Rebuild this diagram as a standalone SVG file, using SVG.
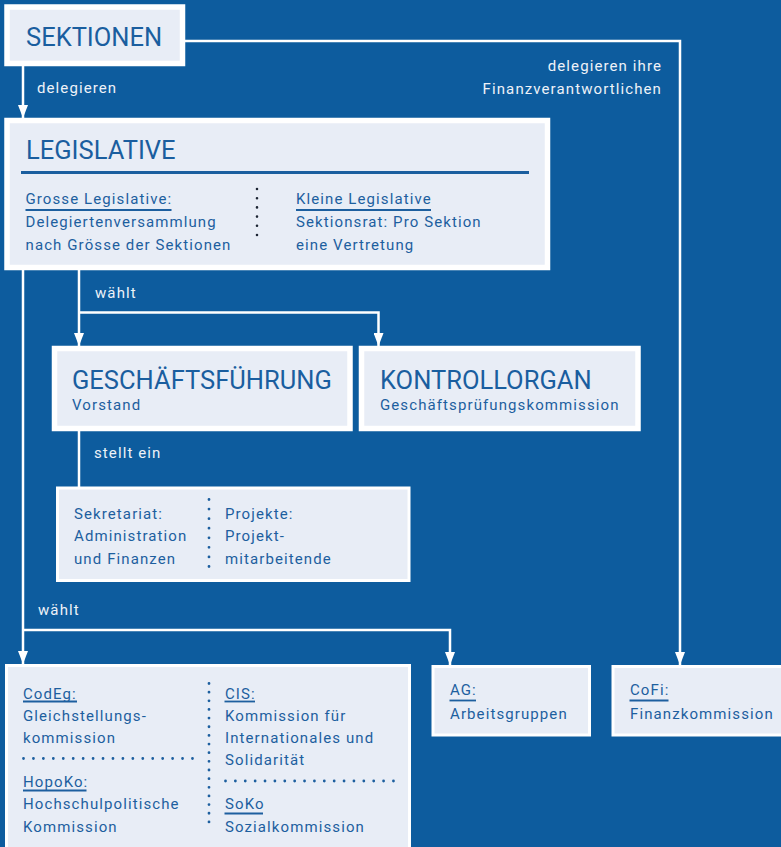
<svg xmlns="http://www.w3.org/2000/svg" width="781" height="847" viewBox="0 0 781 847">
<defs>
<style>
.bg{fill:#0d5c9e}
.box{fill:#e8edf6;stroke:#ffffff}
.thick{stroke-width:5.5}
.thin{stroke-width:3}
.title{font-family:Roboto,"Liberation Sans",sans-serif;font-size:25.5px;fill:#1a5e9f}
.t{font-family:Roboto,"Liberation Sans",sans-serif;font-size:15px;letter-spacing:1.1px;fill:#1d5f9f}
.lbl{font-family:Roboto,"Liberation Sans",sans-serif;font-size:15px;letter-spacing:1.1px;fill:#eef2f8}
.ul{stroke:#1d5f9f;stroke-width:1.8;fill:none}
.dots{stroke:#1d5f9f;stroke-width:2.8;stroke-linecap:round;fill:none}
.dotsd{stroke:#1c2433;stroke-width:2.6;stroke-linecap:round;fill:none}
.con{stroke:#ffffff;stroke-width:2.5;fill:none}
</style>
<marker id="arr" viewBox="0 0 13 10" refX="13" refY="5" markerWidth="13" markerHeight="10" markerUnits="userSpaceOnUse" orient="auto">
<path d="M0,0 L13,5 L0,10 Z" fill="#ffffff"/>
</marker>
</defs>
<rect class="bg" x="0" y="0" width="781" height="847"/>

<g id="connectors">
<path class="con" d="M23,66 V118" marker-end="url(#arr)"/>
<path class="con" d="M185,41 H680 V665" marker-end="url(#arr)"/>
<path class="con" d="M79,270 V346" marker-end="url(#arr)"/>
<path class="con" d="M79,312.5 H378.5 V346" marker-end="url(#arr)"/>
<path class="con" d="M79,431 V487"/>
<path class="con" d="M23,270 V664" marker-end="url(#arr)"/>
<path class="con" d="M23,630 H450 V665" marker-end="url(#arr)"/>
<text class="lbl" x="37" y="93">delegieren</text>
<text class="lbl" x="662" y="71" text-anchor="end">delegieren ihre</text>
<text class="lbl" x="662" y="94" text-anchor="end">Finanzverantwortlichen</text>
<text class="lbl" x="95" y="298">wählt</text>
<text class="lbl" x="94" y="458">stellt ein</text>
<text class="lbl" x="38" y="615">wählt</text>
</g>

<g id="sektionen">
<rect class="box thick" x="7" y="7" width="175.5" height="56.5"/>
<text class="title" x="26" y="45.5">SEKTIONEN</text>
</g>

<g id="legislative">
<rect class="box thick" x="7" y="120.5" width="540.5" height="147"/>
<text class="title" x="26" y="158.5">LEGISLATIVE</text>
<line x1="21" y1="172.5" x2="529" y2="172.5" stroke="#1a5e9f" stroke-width="3"/>
<text class="t" x="25.5" y="204">Grosse Legislative:</text>
<line class="ul" x1="25.5" y1="210" x2="171.5" y2="210"/>
<text class="t" x="25.5" y="227">Delegiertenversammlung</text>
<text class="t" x="25.5" y="249.5">nach Grösse der Sektionen</text>
<line class="dotsd" x1="257" y1="189" x2="257" y2="244.2" stroke-dasharray="0 9.2"/>
<text class="t" x="296" y="204">Kleine Legislative</text>
<line class="ul" x1="296" y1="210" x2="431" y2="210"/>
<text class="t" x="296" y="227">Sektionsrat: Pro Sektion</text>
<text class="t" x="296" y="249.5">eine Vertretung</text>
</g>

<g id="geschaeftsfuehrung">
<rect class="box thick" x="54.5" y="348.5" width="295.5" height="80"/>
<text class="title" x="72" y="388.5">GESCHÄFTSFÜHRUNG</text>
<text class="t" x="72" y="409.5">Vorstand</text>
</g>

<g id="kontrollorgan">
<rect class="box thick" x="361.5" y="348.5" width="276.5" height="80"/>
<text class="title" x="380" y="388.5">KONTROLLORGAN</text>
<text class="t" x="380" y="409.5">Geschäftsprüfungskommission</text>
</g>

<g id="sekretariat">
<rect class="box thin" x="57.5" y="488" width="351.5" height="92.5"/>
<text class="t" x="74" y="518.5">Sekretariat:</text>
<text class="t" x="74" y="541">Administration</text>
<text class="t" x="74" y="563.5">und Finanzen</text>
<line class="dots" x1="209" y1="499.5" x2="209" y2="566.5" stroke-dasharray="0 9.57"/>
<text class="t" x="225" y="518.5">Projekte:</text>
<text class="t" x="225" y="541">Projekt-</text>
<text class="t" x="225" y="563.5">mitarbeitende</text>
</g>

<g id="kommissionen">
<rect class="box thin" x="6.5" y="665.5" width="403" height="190"/>
<text class="t" x="23" y="698.5">CodEg:</text>
<line class="ul" x1="23" y1="701.5" x2="77" y2="701.5"/>
<text class="t" x="23" y="721">Gleichstellungs-</text>
<text class="t" x="23" y="743">kommission</text>
<line class="dots" x1="23.5" y1="758.5" x2="192.5" y2="758.5" stroke-dasharray="0 9.94"/>
<text class="t" x="23" y="787">HopoKo:</text>
<line class="ul" x1="23" y1="790.5" x2="86.5" y2="790.5"/>
<text class="t" x="23" y="809">Hochschulpolitische</text>
<text class="t" x="23" y="831.5">Kommission</text>
<line class="dots" x1="209" y1="683.5" x2="209" y2="830.5" stroke-dasharray="0 8.65"/>
<text class="t" x="225" y="698.5">CIS:</text>
<line class="ul" x1="224.5" y1="701.5" x2="255" y2="701.5"/>
<text class="t" x="225" y="721">Kommission für</text>
<text class="t" x="225" y="743">Internationales und</text>
<text class="t" x="225" y="765">Solidarität</text>
<line class="dots" x1="225.5" y1="781" x2="393.5" y2="781" stroke-dasharray="0 9.88"/>
<text class="t" x="225" y="809">SoKo</text>
<line class="ul" x1="224.5" y1="813.5" x2="263" y2="813.5"/>
<text class="t" x="225" y="831.5">Sozialkommission</text>
</g>

<g id="ag">
<rect class="box thin" x="433" y="666.5" width="156.5" height="68.5"/>
<text class="t" x="450" y="695">AG:</text>
<line class="ul" x1="449.5" y1="700.5" x2="476" y2="700.5"/>
<text class="t" x="450" y="719">Arbeitsgruppen</text>
</g>

<g id="cofi">
<rect class="box thin" x="613" y="666.5" width="180" height="68.5"/>
<text class="t" x="630" y="695">CoFi:</text>
<line class="ul" x1="629.5" y1="700.5" x2="668.5" y2="700.5"/>
<text class="t" x="630" y="719">Finanzkommission</text>
</g>
</svg>
